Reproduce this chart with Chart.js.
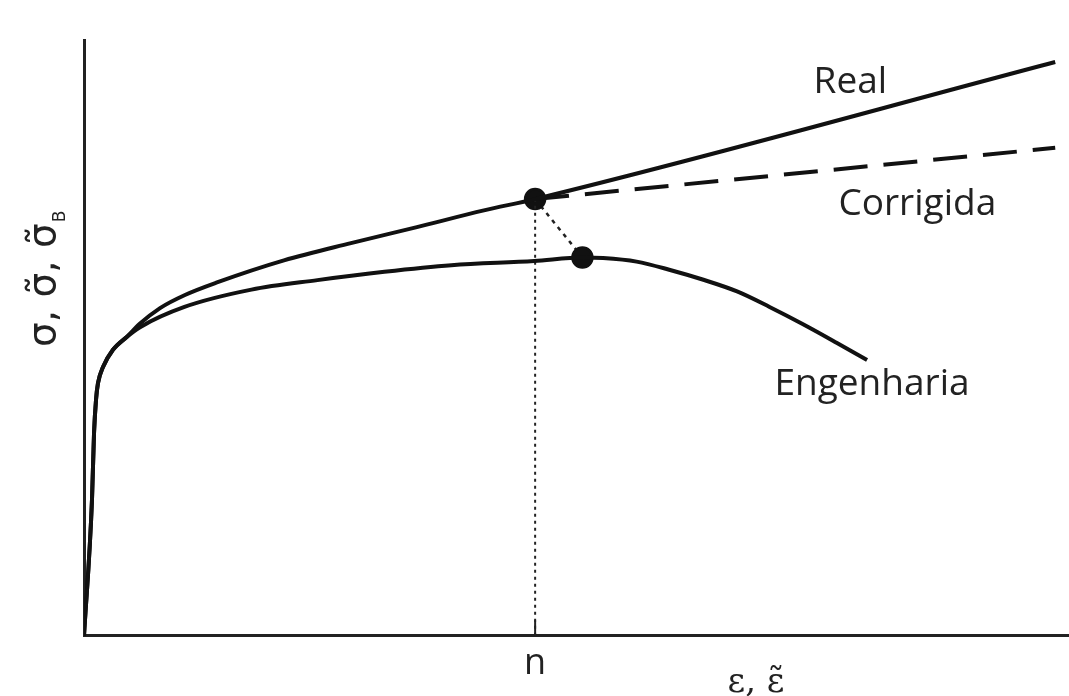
<!DOCTYPE html>
<html>
<head>
<meta charset="utf-8">
<script src="https://cdn.jsdelivr.net/npm/chart.js@4.4.1/dist/chart.umd.min.js"></script>
<style>
  html, body { margin: 0; padding: 0; background: #fff; }
  #wrap { width: 1069px; height: 696px; }
</style>
</head>
<body>
<div id="wrap"><canvas id="chart"></canvas></div>
<script>
// strain (0..1) vs stress (0..100)
const realCurve = [[0, 0], [0.0081, 22.8], [0.0102, 34.1], [0.0122, 39.6], [0.0142, 42.4],
  [0.0193, 45.1], [0.0294, 48.0], [0.0437, 50.2], [0.0569, 52.4], [0.0772, 55.0], [0.1025, 57.2],
  [0.135, 59.3], [0.203, 63.0], [0.271, 65.9], [0.338, 68.6], [0.406, 71.4], [0.458, 73.3], [0.986, 96.3]];
const engCurve = [[0, 0], [0.0081, 22.8], [0.0102, 34.1], [0.0122, 39.6], [0.0142, 42.4],
  [0.0193, 45.1], [0.0294, 48.0], [0.0437, 50.2], [0.0569, 51.8], [0.102, 55.2], [0.170, 58.1],
  [0.237, 59.7], [0.305, 61.1], [0.373, 62.2], [0.457, 62.9], [0.506, 63.5], [0.527, 63.4],
  [0.561, 62.8], [0.595, 61.4], [0.628, 59.8], [0.663, 57.8], [0.696, 55.2], [0.730, 52.3],
  [0.764, 49.2], [0.795, 46.3]];
const corrCurve = [[0.458, 73.3], [0.986, 81.9]];
const neckPoints = [[0.458, 73.3], [0.506, 63.5]];
const nStrain = 0.458;
const xTicks = [nStrain];
const xTickLabels = ['n'];
const curveLabels = [
  { text: 'Real', x: 0.778, y: 91.1 },
  { text: 'Corrigida', x: 0.846, y: 70.6 },
  { text: 'Engenharia', x: 0.800, y: 40.4 }
];

const toXY = arr => arr.map(p => ({ x: p[0], y: p[1] }));

const labelPlugin = {
  id: 'labels',
  afterDatasetsDraw(chart) {
    const { ctx, scales: { x, y } } = chart;
    ctx.save();
    ctx.fillStyle = '#222';
    ctx.textAlign = 'center';
    ctx.textBaseline = 'alphabetic';
    ctx.font = '37px "Open Sans", sans-serif';
    curveLabels.forEach(l => ctx.fillText(l.text, x.getPixelForValue(l.x), y.getPixelForValue(l.y)));

    // x axis title
    ctx.font = '34px "DejaVu Serif", serif';
    ctx.fillText('\u03B5, \u03B5\u0303', 756, 692);

    // y axis title, rotated
    ctx.translate(55, 347);
    ctx.rotate(-Math.PI / 2);
    ctx.textAlign = 'left';
    ctx.font = '39px "DejaVu Sans", sans-serif';
    const main = '\u03C3, \u03C3\u0303, \u03C3\u0303';
    const w = ctx.measureText(main).width;
    ctx.fillText(main, 0, 0);
    ctx.font = '17px "DejaVu Sans", sans-serif';
    ctx.fillText('B', w + 1, 10);
    ctx.restore();
  }
};

new Chart(document.getElementById('chart'), {
  type: 'scatter',
  data: {
    datasets: [
      { data: toXY(realCurve), showLine: true, borderColor: '#111', borderWidth: 4, pointRadius: 0, cubicInterpolationMode: 'monotone' },
      { data: toXY(engCurve), showLine: true, borderColor: '#111', borderWidth: 4, pointRadius: 0, cubicInterpolationMode: 'monotone' },
      { data: toXY(corrCurve), showLine: true, borderColor: '#111', borderWidth: 4, borderDash: [34, 16], pointRadius: 0 },
      { data: [{ x: nStrain, y: 0 }, { x: nStrain, y: neckPoints[0][1] }], showLine: true, borderColor: '#222', borderWidth: 2, borderDash: [3, 4], pointRadius: 0 },
      { data: [{ x: nStrain, y: 0 }, { x: nStrain, y: 2.6 }], showLine: true, borderColor: '#222', borderWidth: 2, pointRadius: 0 },
      { data: toXY(neckPoints), showLine: true, borderColor: '#222', borderWidth: 2.5, borderDash: [4, 5], pointRadius: 10, pointBackgroundColor: '#111', pointBorderColor: '#111' }
    ]
  },
  options: {
    responsive: true,
    maintainAspectRatio: false,
    animation: false,
    layout: { autoPadding: false, padding: { left: 76, top: 40, right: 0, bottom: 5 } },
    plugins: { legend: { display: false }, tooltip: { enabled: false } },
    scales: {
      x: {
        type: 'linear', min: 0, max: 1,
        afterBuildTicks: axis => { axis.ticks = xTicks.map(v => ({ value: v })); },
        afterFit: axis => { axis.paddingLeft = 0; axis.paddingRight = 0; },
        ticks: {
          callback: (v, i) => xTickLabels[i],
          color: '#222', font: { family: 'Open Sans', size: 36 }, padding: 6, maxRotation: 0
        },
        grid: { drawOnChartArea: false, drawTicks: false },
        border: { color: '#222', width: 3 }
      },
      y: {
        min: 0, max: 100,
        ticks: { display: false },
        grid: { display: false },
        border: { color: '#222', width: 3 }
      }
    }
  },
  plugins: [labelPlugin]
});
</script>
</body>
</html>
